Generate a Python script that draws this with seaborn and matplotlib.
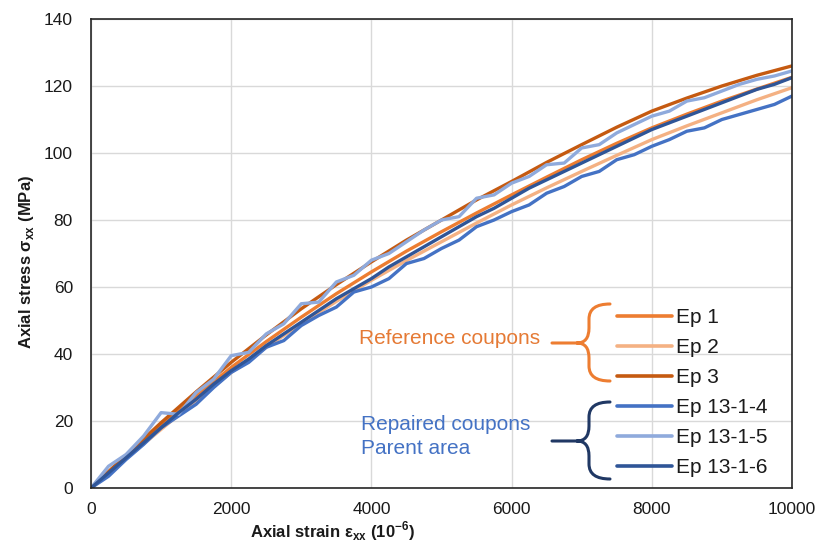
import numpy as np
import pandas as pd
import matplotlib
matplotlib.use("Agg")
import matplotlib.pyplot as plt
import seaborn as sns
from matplotlib.path import Path
from matplotlib.patches import PathPatch

# ---------------- data ----------------
strain_ref = list(range(0, 10001, 500))
ep1 = [0, 9.3, 18.5, 27.4, 36, 43.7, 51, 58, 64.5, 70.7, 76.5, 82.1, 87.5, 92.8, 98, 102.9, 107.5, 111.6, 115.5, 119.1, 122.6]
ep2 = [0, 8.8, 17.5, 26.2, 34.5, 42, 49, 55.7, 62, 67.9, 73.5, 79.1, 84.5, 89.6, 94.5, 99.3, 104, 108.1, 112, 115.9, 119.5]
ep3 = [0, 9.8, 19.5, 28.7, 37.5, 45.7, 53.5, 60.7, 67.5, 74, 80, 86, 91.5, 97.2, 102.5, 107.7, 112.5, 116.4, 120, 123.2, 126]

strain_rep = list(range(0, 10001, 250))
ep1314 = [0, 3.5, 8.5, 13, 18, 21.5, 25, 30, 34.5, 37.5, 42, 44, 48.5, 51.5, 54, 58.5, 60, 62.5, 67, 68.5,
          71.5, 74, 78, 80, 82.5, 84.5, 88, 90, 93, 94.5, 98, 99.5, 102, 104, 106.5, 107.5, 110, 111.5, 113, 114.5, 117]
ep1315 = [0, 6.5, 10, 15.5, 22.5, 22, 28.5, 32.5, 39.5, 40.5, 46, 49, 55, 55.5, 61.5, 63.5, 68, 70, 73.5, 77,
          80, 81, 86.5, 87.5, 91, 93, 96.5, 97, 101.5, 102.5, 106, 108.5, 111, 112.5, 115.5, 116.5, 118.5, 120.5, 122, 123, 124.5]
ep1316 = [0, 4.5, 9, 13.5, 18, 22.5, 26.5, 31, 35, 38.5, 42.5, 46, 49.5, 53, 56.5, 59.5, 62.5, 66, 69, 72,
          75, 78, 81, 83.5, 86.5, 89.5, 92, 94.5, 97, 99.5, 102, 104.5, 107, 109, 111, 113, 115, 117, 119, 120.5, 122.5]

names = ["Ep 1", "Ep 2", "Ep 3", "Ep 13-1-4", "Ep 13-1-5", "Ep 13-1-6"]
colors = ["#ED7D31", "#F4B183", "#C55A11", "#4472C4", "#8FAADC", "#2F5597"]
xticks = [0, 2000, 4000, 6000, 8000, 10000]
yticks = [0, 20, 40, 60, 80, 100, 120, 140]

frames = []
for nm, xs, ys in [("Ep 1", strain_ref, ep1), ("Ep 2", strain_ref, ep2), ("Ep 3", strain_ref, ep3),
                   ("Ep 13-1-4", strain_rep, ep1314), ("Ep 13-1-5", strain_rep, ep1315),
                   ("Ep 13-1-6", strain_rep, ep1316)]:
    frames.append(pd.DataFrame({"strain": xs, "stress": ys, "specimen": nm}))
df = pd.concat(frames, ignore_index=True)

# ---------------- style ----------------
sns.set_theme(style="white")
plt.rcParams["font.family"] = ["Liberation Sans", "DejaVu Sans"]
plt.rcParams["mathtext.fontset"] = "custom"
plt.rcParams["mathtext.rm"] = "Liberation Sans"
plt.rcParams["mathtext.bf"] = "Liberation Sans:bold"

W, H = 822, 551
fig = plt.figure(figsize=(W / 100, H / 100), dpi=100)
ax = fig.add_axes([91 / W, 1 - 488 / H, (792 - 91) / W, (488 - 19) / H])

sns.lineplot(data=df, x="strain", y="stress", hue="specimen", hue_order=names,
             palette=dict(zip(names, colors)), estimator=None, sort=False,
             linewidth=2.4, ax=ax, legend=False)

ax.set_xlim(0, 10000)
ax.set_ylim(0, 140)
ax.set_xticks(xticks)
ax.set_yticks(yticks)
ax.grid(True, color="#D9D9D9", linewidth=1.0)
ax.set_axisbelow(True)
for s in ax.spines.values():
    s.set_color("#262626")
    s.set_linewidth(1.2)
ax.tick_params(axis="both", length=0, labelsize=12.5, labelcolor="#1a1a1a")
ax.tick_params(axis="y", pad=13)
ax.tick_params(axis="x", pad=10)

ax.set_xlabel("Axial strain ε$_\\mathbf{xx}$ (10$^\\mathbf{-6}$)", fontsize=12,
              fontweight="bold", color="#1a1a1a")
ax.set_ylabel("Axial stress σ$_\\mathbf{xx}$ (MPa)", fontsize=12,
              fontweight="bold", color="#1a1a1a")
ax.xaxis.set_label_coords((333 - 91) / 701, (488 - 519) / 469)
ax.yaxis.set_label_coords((36 - 91) / 701, (488 - 262) / 469)

# legend
handles = [plt.Line2D([], [], color=c, linewidth=2.6) for c in colors]
leg = ax.legend(handles, names, loc="upper left", bbox_to_anchor=(617 / W, 1 - 308 / H),
                bbox_transform=fig.transFigure, frameon=False, fontsize=15,
                handlelength=2.64, handletextpad=0.2, labelspacing=0.53,
                borderpad=0, borderaxespad=0)
for t in leg.get_texts():
    t.set_color("#1a1a1a")


def fp(x, y):
    return (x / W, 1 - y / H)


def brace(x_end, x_mid, x_tip, y_top, y_tip, y_bot, color):
    r = 15
    verts = [fp(x_end, y_top), fp(x_mid, y_top), fp(x_mid, y_top + r),
             fp(x_mid, y_tip - r), fp(x_mid, y_tip), fp(x_mid - 12, y_tip),
             fp(x_tip, y_tip),
             fp(x_end, y_bot), fp(x_mid, y_bot), fp(x_mid, y_bot - r),
             fp(x_mid, y_tip + r), fp(x_mid, y_tip), fp(x_mid - 12, y_tip)]
    codes = [Path.MOVETO, Path.CURVE3, Path.CURVE3, Path.LINETO, Path.CURVE3, Path.CURVE3, Path.LINETO,
             Path.MOVETO, Path.CURVE3, Path.CURVE3, Path.LINETO, Path.CURVE3, Path.CURVE3]
    fig.add_artist(PathPatch(Path(verts, codes), transform=fig.transFigure, fill=False,
                             edgecolor=color, linewidth=2.2, capstyle="round"))


brace(610, 589, 552, 304, 343, 381, "#ED7D31")
brace(610, 589, 552, 402, 441, 479, "#203864")

fig.text(540 / W, 1 - 338 / H, "Reference coupons", color="#E57A35", fontsize=15,
         ha="right", va="center")
fig.text(361 / W, 1 - 425 / H, "Repaired coupons", color="#4472C4", fontsize=15,
         ha="left", va="center")
fig.text(361 / W, 1 - 448 / H, "Parent area", color="#4472C4", fontsize=15,
         ha="left", va="center")

fig.savefig("out.png", dpi=100)
